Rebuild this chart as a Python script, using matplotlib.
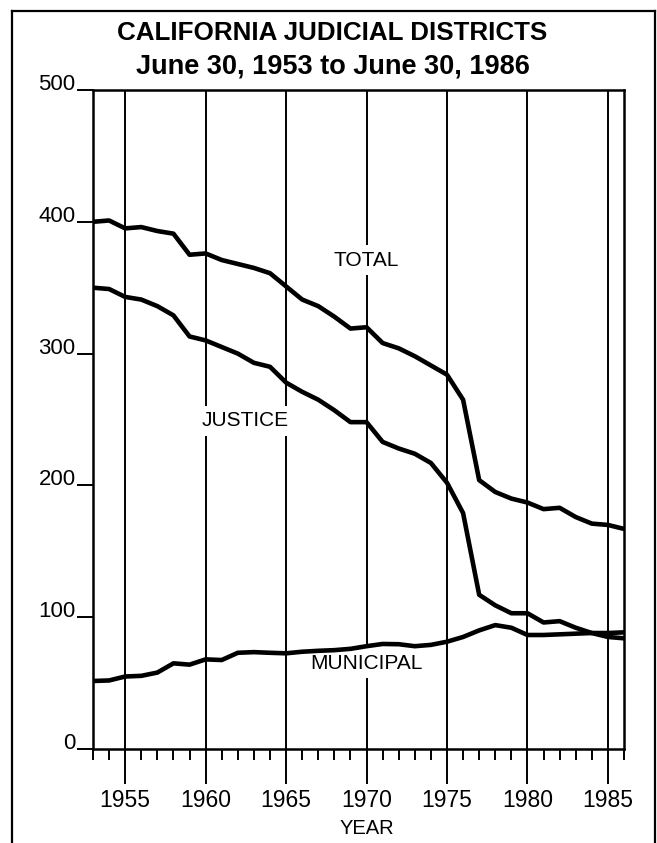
import matplotlib
matplotlib.use("Agg")
import matplotlib.pyplot as plt
from matplotlib.lines import Line2D
from matplotlib.ticker import MultipleLocator, FixedLocator

plt.rcParams['font.family'] = ['Liberation Sans', 'DejaVu Sans']

# ---- data ----
years = list(range(1953, 1987))
total = [400, 401, 395, 396, 393, 391, 375, 376, 371, 368, 365, 361, 351, 341,
         336, 328, 319, 320, 308, 304, 298, 291, 284, 265, 204, 195, 190, 187,
         182, 183, 176, 171, 170, 167]
justice = [350, 349, 343, 341, 336, 329, 313, 310, 305, 300, 293, 290, 278, 271,
           265, 257, 248, 248, 233, 228, 224, 217, 202, 179, 117, 109, 103, 103,
           96, 97, 92, 88, 85, 84]
municipal = [51.6, 52, 55, 55.5, 58, 65, 64, 68, 67.5, 73, 73.5, 73, 72.6, 73.8,
             74.5, 75, 76, 78, 79.7, 79.5, 78, 79, 81.4, 85, 90, 94, 92, 86.5,
             86.5, 87, 87.5, 88, 88, 88.5]
y_ticks = [0, 100, 200, 300, 400, 500]
x_major = [1955, 1960, 1965, 1970, 1975, 1980, 1985]
series_labels = ["TOTAL", "JUSTICE", "MUNICIPAL"]

W, H = 657, 843
fig = plt.figure(figsize=(W / 100, H / 100), dpi=100)
ax = fig.add_axes([93 / W, 1 - 749 / H, (624 - 93) / W, (749 - 90) / H])
ax.set_xlim(1953, 1986)
ax.set_ylim(0, 500)
for s in ax.spines.values():
    s.set_linewidth(1.8)

ax.xaxis.set_major_locator(FixedLocator(x_major))
ax.xaxis.set_minor_locator(MultipleLocator(1))
ax.tick_params(axis='x', which='major', direction='out', length=25, width=1.4,
               pad=4, labelsize=16.5)
ax.tick_params(axis='x', which='minor', direction='out', length=8, width=1.4)
ax.grid(axis='x', which='major', color='black', lw=1.4)

ax.set_yticks(y_ticks)
ax.tick_params(axis='y', direction='out', length=11.5, width=1.4, pad=1,
               labelsize=16)
for lab in ax.get_yticklabels():
    lab.set_va('baseline')

for vals in (total, justice, municipal):
    ax.plot(years, vals, color='black', lw=3.3, solid_joinstyle='round',
            solid_capstyle='round', zorder=4)

bb = dict(facecolor='white', edgecolor='none', pad=4)
ax.text(1970, 371, series_labels[0], ha='center', va='center', fontsize=15,
        bbox=bb, zorder=3)
ax.text(1962.45, 249, series_labels[1], ha='center', va='center', fontsize=15,
        bbox=bb, zorder=3)
ax.text(1970, 65, series_labels[2], ha='center', va='center', fontsize=15,
        bbox=bb, zorder=3)

fig.text(332 / W, 1 - 33 / H, "CALIFORNIA JUDICIAL DISTRICTS", ha='center',
         va='center', fontsize=18.7, fontweight='bold')
fig.text(332.5 / W, 1 - 66 / H, "June 30, 1953 to June 30, 1986", ha='center',
         va='center', fontsize=19.5, fontweight='bold')
fig.text(367 / W, 1 - 828 / H, "YEAR", ha='center', va='center', fontsize=14.5)

# outer frame
fx0, fx1, fy = 12 / W, 655 / W, 1 - 11 / H
fig.add_artist(Line2D([fx0, fx1], [fy, fy], transform=fig.transFigure,
                      color='black', lw=1.6))
fig.add_artist(Line2D([fx0, fx0], [0, fy], transform=fig.transFigure,
                      color='black', lw=1.6))
fig.add_artist(Line2D([fx1, fx1], [0, fy], transform=fig.transFigure,
                      color='black', lw=1.6))

fig.savefig("out.png", dpi=100, facecolor='white')
